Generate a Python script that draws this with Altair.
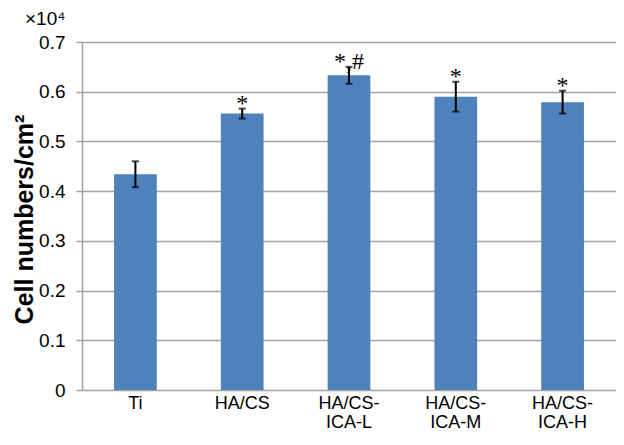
import altair as alt
import pandas as pd

categories = ["Ti", "HA/CS", "HA/CS-ICA-L", "HA/CS-ICA-M", "HA/CS-ICA-H"]
means = [0.434, 0.556, 0.633, 0.590, 0.579]
errors = [0.026, 0.010, 0.017, 0.030, 0.023]
marks = ["", "*", "*,#", "*", "*"]

df = pd.DataFrame({
    "cat": categories,
    "mean": means,
    "lo": [m - e for m, e in zip(means, errors)],
    "hi": [m + e for m, e in zip(means, errors)],
    "mark": marks,
})

FONT = "Liberation Sans"
GRID = "#a3a3a3"

x = alt.X("cat:N", sort=categories, title=None,
          scale=alt.Scale(paddingInner=0.6, paddingOuter=0.3),
          axis=alt.Axis(labelAngle=0, ticks=False, domain=False, grid=False,
                        labelFont=FONT, labelFontSize=18, labelColor="#000",
                        labelPadding=4, labelLineHeight=19,
                        labelExpr="indexof(datum.label, 'ICA') > 0 ? ['HA/CS-', slice(datum.label, 6)] : datum.label"))

y_scale = alt.Scale(domain=[0, 0.7], nice=False)

bars = alt.Chart(df).mark_bar(color="#4f81bd").encode(
    x=x,
    y=alt.Y("mean:Q", scale=y_scale, title="Cell numbers/cm²",
            axis=alt.Axis(values=[0, 0.1, 0.2, 0.3, 0.4, 0.5, 0.6, 0.7],
                          labelExpr="datum.value == 0 ? '0' : format(datum.value, '.1f')",
                          labelFont=FONT, labelFontSize=19, labelColor="#000",
                          labelPadding=11, tickSize=6, tickColor=GRID, tickWidth=1.5,
                          domainColor=GRID, domainWidth=1.5,
                          gridColor=GRID, gridWidth=1.5,
                          titleFont=FONT, titleFontSize=25, titleFontWeight="bold",
                          titleColor="#000", titleX=-58, titleY=177,
                          titleBaseline="middle", titleAlign="center", titleAngle=270)),
)

rules = alt.Chart(df).mark_rule(color="#000", strokeWidth=2).encode(
    x=alt.X("cat:N", sort=categories), y="lo:Q", y2="hi:Q")

caps_lo = alt.Chart(df).mark_tick(color="#000", thickness=2, size=7, orient="horizontal").encode(
    x=alt.X("cat:N", sort=categories), y="lo:Q")
caps_hi = alt.Chart(df).mark_tick(color="#000", thickness=2, size=7, orient="horizontal").encode(
    x=alt.X("cat:N", sort=categories), y="hi:Q")

stars = alt.Chart(df).mark_text(font="Liberation Serif", fontSize=24, color="#000",
                                baseline="middle", dy=-5).encode(
    x=alt.X("cat:N", sort=categories), y="hi:Q", text="mark:N")

exp_label = alt.Chart(pd.DataFrame({"t": ["×10⁴"]})).mark_text(
    font=FONT, fontSize=19, color="#000", align="left", baseline="middle").encode(
    x=alt.value(-57), y=alt.value(-23), text="t:N")

chart = alt.layer(bars, rules, caps_lo, caps_hi, stars, exp_label).properties(
    width=534, height=348,
    autosize=alt.AutoSizeParams(type="none"),
    padding={"left": 74, "top": 34, "right": 0, "bottom": 41},
).configure_view(stroke=None).configure(background="#ffffff")

chart.save("out.html", embed_options={"renderer": "svg", "actions": False})
